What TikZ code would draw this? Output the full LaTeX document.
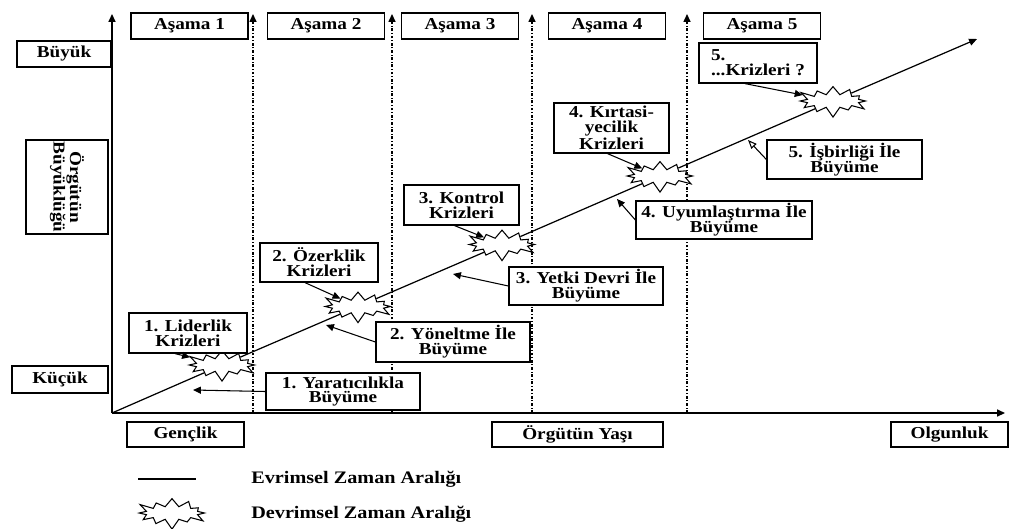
\documentclass[tikz,border=0pt]{standalone}
\usepackage{fontspec}
\setmainfont{Liberation Serif}[FakeStretch=1.15]
\usetikzlibrary{arrows.meta, calc, shapes.symbols}

\begin{document}
\begin{tikzpicture}[x=0.02cm, y=-0.02cm, >={Triangle[length=4.5pt, width=4pt]},
    kutu/.style={draw, line width=0.7pt, fill=white, inner sep=0pt, align=center,
                 font=\bfseries\fontsize{9.5}{8.5}\selectfont},
    boyut/.style 2 args={minimum width=#1*0.02cm, minimum height=#2*0.02cm},
    kriz/.style={starburst, draw, fill=white, line width=0.6pt, inner sep=0pt,
                 minimum width=1.5cm, minimum height=0.7cm,
                 starburst points=12, starburst point height=0.22cm},
    sinir/.style={line width=0.7pt, dash pattern=on 1.6pt off 1pt on 0.5pt off 1pt},
    ok/.style={->, line width=0.6pt}]
    \useasboundingbox (0,0) rectangle (1010,528);

    % axes
    \coordinate (O) at (112,413);
    \coordinate (ytip) at (112,14);
    \coordinate (xtip) at (1005,413);
    \draw[ok, line width=0.8pt] (O) -- (ytip);
    \draw[ok, line width=0.8pt] (O) -- (xtip);

    % stage borders
    \foreach \x [count=\n] in {253,392,532,687} {
        \coordinate (d\n) at (\x,413);
        \coordinate (u\n) at (\x,14);
        \draw[sinir, ->] (d\n) -- (u\n);
    }

    % stage titles
    \foreach \x [count=\i] in {189.5,326,460,607,762}
        \node[kutu, boyut={117}{26}] (a\i) at (\x,26) {Aşama \i};

    % axis labels
    \node[kutu, boyut={94}{26}] (buyuk) at (64,54) {Büyük};
    \node[kutu, boyut={94}{82}, rotate=-90, font=\bfseries\fontsize{9.5}{9.5}\selectfont]
        (boy) at (67,187) {Örgütün\\Büyüklüğü};
    \node[kutu, boyut={96}{27}] (kucuk) at (60,379.5) {Küçük};
    \node[kutu, boyut={117}{25}] (genc) at (185.5,434.5) {Gençlik};
    \node[kutu, boyut={171}{25}] (yas) at (577.5,434.5) {Örgütün Yaşı};
    \node[kutu, boyut={117}{25}] (olgun) at (949.5,434.5) {Olgunluk};

    % revolutions
    \node[kriz] (s1) at (222,365) {};
    \node[kriz] (s2) at (358,306.5) {};
    \node[kriz] (s3) at (502,244.5) {};
    \node[kriz] (s4) at (660,176) {};
    \node[kriz] (s5) at (833,101) {};
    \coordinate (tip) at (977,39);
    \draw[ok, line width=0.7pt] (O) -- (s1) -- (s2) -- (s3) -- (s4) -- (s5) -- (tip);

    % crisis boxes
    \node[kutu, boyut={118}{40}] (k1) at (188,333) {1. Liderlik\\Krizleri};
    \node[kutu, boyut={118}{39}] (k2) at (319,262.5) {2. Özerklik\\Krizleri};
    \node[kutu, boyut={115}{40}] (k3) at (461.5,205) {3. Kontrol\\Krizleri};
    \node[kutu, boyut={115}{50}] (k4) at (611.5,128) {4. Kırtasi-\\yecilik\\Krizleri};
    \node[kutu, boyut={118}{40}, align=left] (k5) at (758,63) {5.\\...Krizleri ?};
    \draw[ok] ($(k1.south)+(-13,0)$) -- (s1);
    \draw[ok] ($(k2.south)+(-14,0)$) -- (s2);
    \draw[ok] ($(k3.south)+(-7,0)$) -- (s3);
    \draw[ok] ($(k4.south)+(-4,0)$) -- (s4);
    \draw[ok] ($(k5.south)+(-13,0)$) -- (s5);

    % growth boxes
    \node[kutu, boyut={154}{37}] (b1) at (343,391.5) {1. Yaratıcılıkla\\Büyüme};
    \node[kutu, boyut={154}{40}] (b2) at (453,342) {2. Yöneltme İle\\Büyüme};
    \node[kutu, boyut={154}{38}] (b3) at (586,286) {3. Yetki Devri İle\\Büyüme};
    \node[kutu, boyut={176}{38}] (b4) at (724,220) {4. Uyumlaştırma İle\\Büyüme};
    \node[kutu, boyut={155}{39}] (b5) at (844.5,159.5) {5. İşbirliği İle\\Büyüme};
    \coordinate (g1) at (193,390);
    \coordinate (g2) at (326,325);
    \coordinate (g3) at (453,274);
    \coordinate (g4) at (617,199);
    \coordinate (g5) at (748,140);
    \draw[ok] (b1.west) -- (g1);
    \draw[ok] (b2.west) -- (g2);
    \draw[ok] (b3.west) -- (g3);
    \draw[ok] (b4.west) -- (g4);
    \draw[line width=0.6pt, -{Triangle[open, length=5pt, width=4pt]}] (b5.west) -- (g5);

    % legend
    \coordinate (l1) at (138,479);
    \coordinate (l2) at (196,479);
    \draw[line width=0.7pt] (l1) -- (l2);
    \node[kriz] (ls) at (172,513) {};
    \node[anchor=west, inner sep=0pt, font=\bfseries\fontsize{10}{12}\selectfont] (evr) at (251,479) {Evrimsel Zaman Aralığı};
    \node[anchor=west, inner sep=0pt, font=\bfseries\fontsize{10}{12}\selectfont] (dev) at (251,514) {Devrimsel Zaman Aralığı};
\end{tikzpicture}
\end{document}
